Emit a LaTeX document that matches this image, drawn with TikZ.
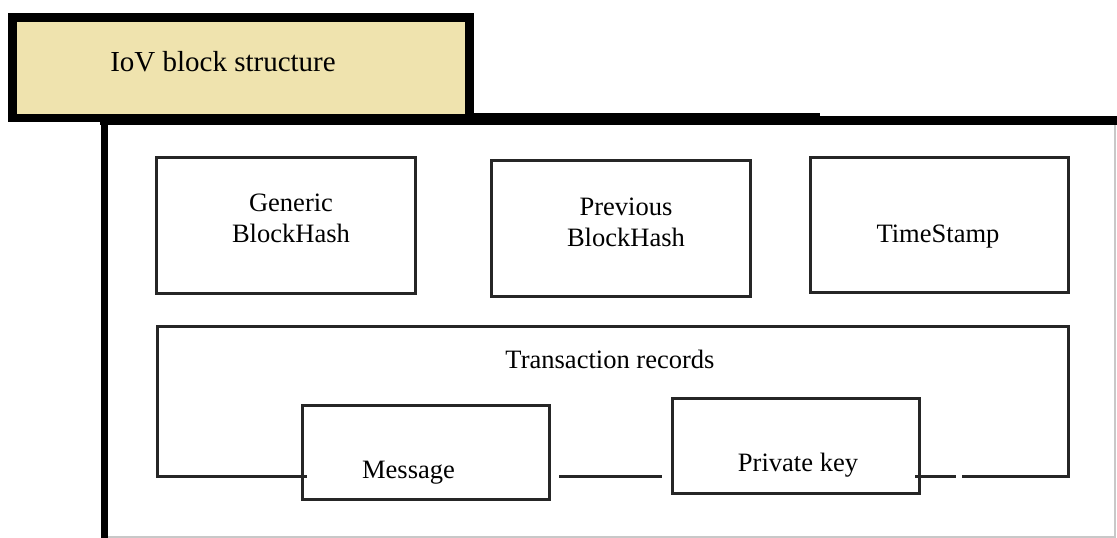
\documentclass[tikz,border=0pt]{standalone}
\usepackage{fontspec}
\setmainfont{Liberation Serif}
\usetikzlibrary{calc}
\definecolor{titlefill}{HTML}{EFE3AE}
\definecolor{edgegray}{HTML}{C8C8C8}
\begin{document}
\begin{tikzpicture}[x=0.75pt,y=-0.75pt,
  field/.style={draw=black!85,line width=2.25pt,rectangle,outer sep=0pt,inner sep=0pt},
  thinline/.style={draw=black!85,line width=2.25pt},
  label/.style={font=\fontsize{19.9}{23.25}\selectfont,align=center,inner sep=0pt,anchor=base},
  titlebox/.style={draw=black,line width=6.4pt,fill=titlefill,rectangle,outer sep=0pt,inner sep=0pt},
  edge/.style={draw=edgegray,line width=1.1pt}]
\useasboundingbox (0,0) rectangle (1117,538);

% outer frame of the block
\draw[edge] (1115,125) -- (1115,537) -- (106,537);
\draw[line width=5.25pt] (104,117) -- (104,538);
\draw[line width=9pt] (100,119) -- (820,119);
\draw[line width=6.75pt] (820,120.5) -- (1117,120.5);

% title tab
\node[titlebox,minimum width=342.75pt,minimum height=75.4pt] (title) at (241,67.75) {};
\node[label,font=\fontsize{21.75}{26}\selectfont] (titletext) at (223,72) {IoV block structure};

% header fields
\node[field,minimum width=194.25pt,minimum height=102pt] (gen) at (285.5,226) {};
\node[field,minimum width=194.25pt,minimum height=102pt] (prev) at (620.5,229) {};
\node[field,minimum width=193.5pt,minimum height=101.25pt] (time) at (939,225.5) {};
\node[label] (gentext) at (291,243) {Generic\\BlockHash};
\node[label] (prevtext) at (626,247) {Previous\\BlockHash};
\node[label] (timetext) at (938,243) {TimeStamp};

% transaction records
\node[rectangle,outer sep=0pt,inner sep=0pt,minimum width=683.25pt,minimum height=112.5pt] (records) at (612.5,401) {};
\node[field,minimum width=185.25pt,minimum height=70.5pt] (msg) at (425.5,452) {};
\node[field,minimum width=185.25pt,minimum height=71.25pt] (key) at (795.5,445.5) {};
\node[label] (rectext) at (610,368) {Transaction records};
\node[label] (msgtext) at (408.5,478) {Message};
\node[label] (keytext) at (798,471) {Private key};

\draw[thinline] ($(msg.west|-records.south)+(5,0)$) -- (records.south west) -- (records.north west)
  -- (records.north east) -- (records.south east) -- ($(records.south east)+(-106,0)$);
\draw[thinline] ($(msg.east|-records.south)+(10,0)$) -- ($(key.west|-records.south)+(-10,0)$);
\draw[thinline] ($(key.east|-records.south)+(-4,0)$) -- ($(key.east|-records.south)+(37,0)$);
\end{tikzpicture}
\end{document}
